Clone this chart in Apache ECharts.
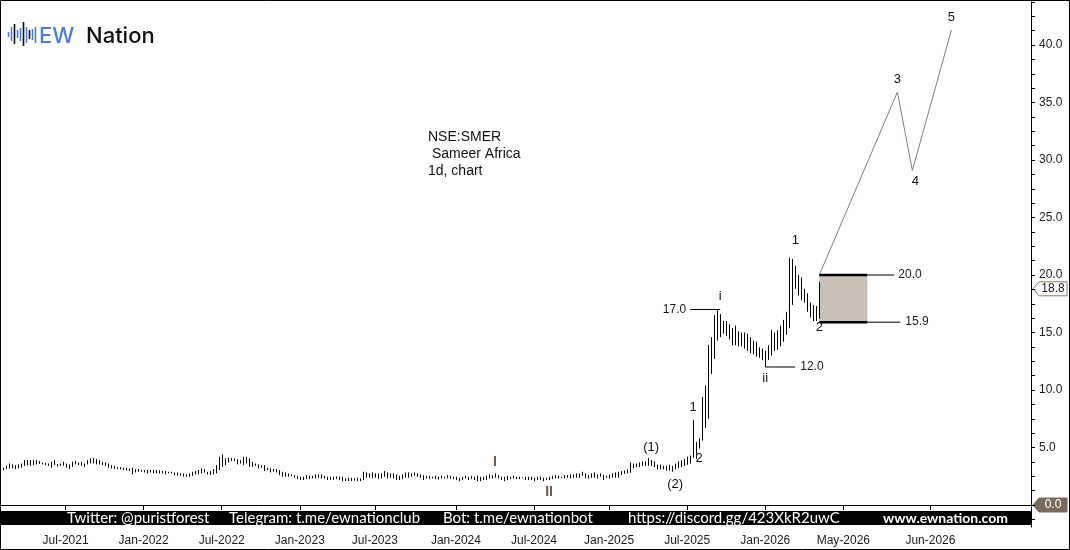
<!DOCTYPE html>
<html><head><meta charset="utf-8">
<script src="https://cdn.jsdelivr.net/npm/echarts@6/dist/echarts.min.js"></script>
<style>html,body{margin:0;padding:0;background:#fff}#c{width:1070px;height:550px}</style>
</head><body><div id="c"></div>
<script>
// ---- weekly bar data (low / high), one entry per week ----
const lows = [
3.04,3.12,3.18,3.18,3.12,3.18,3.24,3.41,3.47,3.41, 3.47,3.53,3.58,3.53,3.47,3.41,3.24,3.47,3.35,3.41,
3.41,3.24,3.12,3.32,3.53,3.47,3.41,3.32,3.53,3.61, 3.61,3.53,3.53,3.47,3.41,3.24,3.18,3.12,3.12,3.10,
3.04,3.01,2.95,2.66,2.83,2.89,2.89,2.83,2.75,2.83, 2.75,2.75,2.75,2.75,2.66,2.75,2.75,2.60,2.54,2.54,
2.46,2.46,2.46,2.54,2.66,2.66,2.75,2.83,2.66,2.60,
2.66,2.75,3.04,3.32,3.47,3.70,3.82,3.82,3.53,3.61, 3.47,3.61,3.32,3.32,3.41,3.18,3.24,2.95,3.04,2.83,
2.89,2.83,2.60,2.46,2.46,2.46,2.52,2.37,2.25,2.17, 2.17,2.25,2.25,2.31,2.31,2.37,2.31,2.31,2.17,2.17,
2.17,2.25,2.17,2.08,2.08,2.08,2.08,2.12,2.08,2.08, 2.17,2.37,2.37,2.31,2.37,2.25,2.31,2.46,2.31,2.37,
2.31,2.17,2.17,2.25,2.37,2.37,
2.46,2.54,2.46,2.37,2.17,2.31,2.25,2.31,2.25,2.22, 2.31,2.31,2.31,2.25,2.25,2.17,2.08,2.17,2.31,2.17,
2.25,2.17,2.08,2.08,2.17,2.17,2.31,2.31,2.37,2.31, 2.17,2.08,2.17,2.25,2.31,2.25,2.25,2.34,2.17,2.17,
2.17,2.08,2.17,2.17,2.08,2.17,2.17,2.25,2.31,2.31, 2.37,2.31,2.37,2.31,2.37,2.37,2.37,2.54,2.31,2.31,
2.37,2.37,2.31,2.46,2.17,2.37,2.31,2.37,2.37,2.37,
2.60,2.70,2.75,2.80,3.20,3.30,3.30,3.40,3.40,3.40, 3.40,3.30,3.10,3.10,3.10,3.00,3.00,2.90,3.10,3.20,
3.30,3.40,3.50,3.60,
4.1,4.0,4.9,5.6,6.7,7.5,11.4,12.7,14.3,14.6, 14.9,14.7,14.4,13.9,13.9,13.8,13.8,13.6,13.4,13.2,
13.1,12.9,12.8,12.6,12.0,12.6,13.0,13.4,13.5,13.8, 14.2,14.8,15.4,17.4,18.8,18.2,17.8,17.6,16.8,16.3,
16.0,16.0,16.2
];
const highs = [
3.24,3.41,3.61,3.53,3.47,3.53,3.61,3.90,3.90,3.90, 3.90,3.90,3.82,3.70,3.67,3.61,3.76,3.90,3.55,3.61,
3.76,3.61,3.53,3.76,3.82,3.70,3.76,3.61,3.90,4.05, 4.10,3.99,3.90,3.76,3.70,3.61,3.47,3.41,3.32,3.30,
3.24,3.24,3.18,3.24,3.12,3.12,3.04,3.04,3.04,3.04, 3.04,3.04,3.01,2.95,2.95,2.89,2.89,2.83,2.83,2.75,
2.75,2.66,2.75,2.89,2.95,3.04,3.18,3.12,2.89,2.95,
3.12,3.47,4.19,4.39,4.05,4.10,4.10,4.05,3.99,3.90, 4.19,4.19,4.05,3.76,3.61,3.53,3.47,3.47,3.24,3.18,
3.12,3.12,3.04,2.89,2.83,2.75,2.66,2.60,2.54,2.46, 2.46,2.60,2.54,2.54,2.66,2.66,2.66,2.54,2.46,2.46,
2.46,2.50,2.46,2.46,2.31,2.37,2.37,2.31,2.37,2.31, 2.89,2.83,2.75,2.83,2.75,2.75,2.75,2.95,2.83,2.75,
2.75,2.66,2.54,2.66,2.83,2.83,
2.75,2.83,2.75,2.66,2.60,2.54,2.54,2.46,2.54,2.46, 2.54,2.46,2.60,2.54,2.46,2.46,2.37,2.46,2.54,2.46,
2.54,2.46,2.54,2.46,2.46,2.54,2.66,2.60,2.75,2.60, 2.46,2.46,2.54,2.46,2.54,2.46,2.46,2.40,2.46,2.46,
2.46,2.37,2.46,2.46,2.37,2.37,2.46,2.54,2.60,2.54, 2.46,2.60,2.60,2.66,2.66,2.75,2.75,2.89,2.75,2.60,
2.75,2.83,2.66,2.75,2.60,2.55,2.63,2.75,2.83,2.89,
2.95,3.00,3.10,3.70,3.60,3.60,3.70,3.80,3.80,4.10, 3.90,3.80,3.50,3.50,3.40,3.40,3.50,3.40,3.60,3.80,
3.90,4.00,4.20,4.30,
7.4,5.5,5.8,9.4,10.4,13.9,14.6,16.5,17.0,16.6, 16.0,16.0,15.7,15.4,15.6,15.1,15.0,15.0,14.9,14.6,
14.3,14.2,13.7,13.6,13.4,13.9,15.2,15.0,15.2,15.6, 16.1,16.8,21.5,21.4,20.8,20.0,19.8,18.8,18.4,17.6,
17.4,17.3,19.4
];
const weekCount = 343;                      // weekly slots on the time axis (incl. projection space)
const tickIndex  = [21, 47, 73, 99, 124, 151, 177, 202, 228, 254, 280, 309];
const tickLabels = ['Jul-2021','Jan-2022','Jul-2022','Jan-2023','Jul-2023','Jan-2024','Jul-2024','Jan-2025','Jul-2025','Jan-2026','May-2026','Jun-2026'];
const yTickValues = [5, 10, 15, 20, 25, 30, 35, 40];
const lastPrice = 18.8;

// Elliott wave labels: [text, week, price]
const waveLabels = [
  ['(1)', 216, 5.04], ['(2)', 224, 1.83], ['1', 230, 8.52], ['2', 232, 4.09],
  ['i', 239, 18.17], ['ii', 254, 11.04], ['1', 264, 23.04], ['2', 272, 15.48],
  ['3', 298, 37.04], ['4', 304, 28.17], ['5', 316, 42.43]
];
const cycleLabels = [['I', 164, 3.74], ['II', 182, 1.13]];

// projected path
const projection = [[272, 20.0], [298, 35.9], [303, 29.1], [316, 41.3]];
const zoneTop = 20.0, zoneBottom = 15.9;
const zoneStart = 272, zoneEnd = 288, zoneTopLabelAt = 297, zoneBottomLabelAt = 299;
const level17 = [[229, 17.0], [239, 17.0]];
const level12 = [[254, 12.0], [264, 12.0]];

const categories = Array.from({length: weekCount}, (_, i) => String(i));
const barData = lows.map((l, i) => [i, l, highs[i]]);

const FONT = 'Liberation Sans, Arial, sans-serif';
const chart = echarts.init(document.getElementById('c'), null, {renderer: 'canvas'});

function lineSeries(data, width, color) {
  return {type: 'line', data: data, symbol: 'none', silent: true, z: 4,
    lineStyle: {color: color || '#000', width: width}, animation: false};
}
const HIDDEN = {color: 'rgba(0,0,0,0)'};
const LBL = {show: true, textBorderWidth: 0, textShadowBlur: 0, opacity: 1};

chart.setOption({
  animation: false,
  backgroundColor: '#fff',
  grid: {left: 1, right: 39, top: 1.875, bottom: 30.625, containLabel: false},
  xAxis: {
    type: 'category', data: categories, boundaryGap: true, offset: 7.6,
    axisLine: {show: true, lineStyle: {color: '#000', width: 1}},
    axisTick: {show: true, alignWithLabel: true, length: 5, interval: (i) => tickIndex.includes(i), lineStyle: {color: '#000'}},
    axisLabel: {interval: (i) => tickIndex.includes(i), formatter: (v, i) => { const k = tickIndex.indexOf(Number(v)); return k >= 0 ? tickLabels[k] : ''; },
      color: '#1e1a18', fontSize: 12, fontFamily: FONT, margin: 8},
    splitLine: {show: false}
  },
  yAxis: {
    type: 'value', position: 'right', min: -1.25, max: 43.75, interval: 1.25,
    axisLine: {show: true, lineStyle: {color: '#000', width: 1}},
    axisTick: {show: true, length: 4, lineStyle: {color: '#000'}},
    axisLabel: {formatter: (v) => yTickValues.some(t => Math.abs(t - v) < 1e-6) ? v.toFixed(1) : '',
      color: '#1e1a18', fontSize: 12, fontFamily: FONT, margin: 8},
    splitLine: {show: false}
  },
  series: [
    {
      type: 'custom', data: barData, encode: {x: 0, y: [1, 2]}, z: 3, silent: true,
      renderItem: (params, api) => {
        const i = api.value(0);
        const a = api.coord([i, api.value(1)]);
        const b = api.coord([i, api.value(2)]);
        const px = Math.round(a[0]) + 0.5;
        return {type: 'line', shape: {x1: px, y1: a[1], x2: px, y2: b[1]}, style: {stroke: '#000', lineWidth: 1}};
      }
    },
    {
      type: 'line', data: [], symbol: 'none', silent: true, z: 2,
      markArea: {silent: true, itemStyle: {color: '#c9c0b6'},
        data: [[{xAxis: zoneStart, yAxis: zoneBottom}, {xAxis: zoneEnd, yAxis: zoneTop}]]}
    },
    lineSeries(projection, 1, '#8c7b6c'),
    lineSeries([[zoneStart, zoneTop], [zoneEnd, zoneTop]], 2.5),
    lineSeries([[zoneEnd, zoneTop], [zoneTopLabelAt, zoneTop]], 1),
    lineSeries([[zoneStart, zoneBottom], [zoneEnd, zoneBottom]], 2.5),
    lineSeries([[zoneEnd, zoneBottom], [zoneBottomLabelAt, zoneBottom]], 1),
    lineSeries(level17, 1),
    lineSeries(level12, 1),
    {
      type: 'scatter', symbolSize: 2, itemStyle: HIDDEN, silent: true, z: 6,
      data: waveLabels.map(d => [d[1], d[2], d[0]]),
      label: Object.assign({}, LBL, {position: 'inside', formatter: p => p.value[2], color: '#111', fontSize: 13, fontFamily: FONT})
    },
    {
      type: 'scatter', symbolSize: 2, itemStyle: HIDDEN, silent: true, z: 6,
      data: cycleLabels.map(d => [d[1], d[2], d[0]]),
      label: Object.assign({}, LBL, {position: 'inside', formatter: p => p.value[2], color: '#6b5b4f', fontSize: 14, fontWeight: 'bold', fontFamily: FONT})
    },
    {
      type: 'scatter', symbolSize: 2, itemStyle: HIDDEN, silent: true, z: 6,
      data: [
        {value: [level17[0][0], level17[0][1], level17[0][1].toFixed(1)], label: {position: 'left', distance: 3}},
        {value: [level12[1][0], level12[1][1], level12[1][1].toFixed(1)], label: {position: 'right', distance: 4}},
        {value: [zoneTopLabelAt, zoneTop, zoneTop.toFixed(1)], label: {position: 'right', distance: 3}},
        {value: [zoneBottomLabelAt, zoneBottom, zoneBottom.toFixed(1)], label: {position: 'right', distance: 4}}
      ],
      label: Object.assign({}, LBL, {formatter: p => p.value[2], color: '#1e1a18', fontSize: 12, fontFamily: FONT})
    }
  ]
});

// ---- overlay graphics (logo, title, banner, price tags) ----
const yLast = chart.convertToPixel({yAxisIndex: 0}, lastPrice);
const yZero = chart.convertToPixel({yAxisIndex: 0}, 0);
const axisX = 1031;

const waveBars = [
  [8.5, 32, 37, '#4a7de0'], [11.5, 27, 41, '#4a7de0'], [14.5, 24, 44, '#111'], [17.5, 30, 38, '#4a7de0'],
  [20.5, 28, 41, '#4a7de0'], [23.5, 22, 46, '#111'], [26.5, 27, 43, '#4a7de0'], [29.5, 30, 39, '#111'],
  [32.5, 29, 40, '#4a7de0'], [35.5, 27, 43, '#4a7de0']
];

function tag(y, fill, stroke, textColor, text) {
  return {
    type: 'group', z: 100,
    children: [
      {type: 'polygon', shape: {points: [[axisX + 2, y], [axisX + 8, y - 7], [axisX + 36, y - 7], [axisX + 36, y + 7], [axisX + 8, y + 7]]},
        style: {fill: fill, stroke: stroke, lineWidth: 1}},
      {type: 'text', x: axisX + 22, y: y, style: {text: text, fill: textColor, font: '12px ' + FONT, textAlign: 'center', textVerticalAlign: 'middle'}}
    ]
  };
}

const banner = [
  ['Twitter: @puristforest', 67, 'normal'],
  ['Telegram: t.me/ewnationclub', 229, 'normal'],
  ['Bot: t.me/ewnationbot', 443, 'normal'],
  ['https://discord.gg/423XkR2uwC', 628, 'normal'],
  ['www.ewnation.com', 883, 'bold']
];

chart.setOption({
  graphic: [
    {type: 'rect', z: 90, shape: {x: 1, y: 511, width: 1030, height: 14}, style: {fill: '#000'}},
    ...banner.map(b => ({type: 'text', z: 91, x: b[1], y: 518, style: {text: b[0], fill: '#fff', font: b[2] + ' ' + (b[2] === 'bold' ? 14 : 15) + 'px Lato, sans-serif', textVerticalAlign: 'middle'}})),
    {type: 'line', z: 90, shape: {x1: axisX + 0.5, y1: 519, x2: axisX + 0.5, y2: 527.5}, style: {stroke: '#000', lineWidth: 1}},
    tag(yLast, '#fff', '#8c7b6c', '#1e1a18', lastPrice.toFixed(1)),
    tag(yZero, '#7a6a5c', '#7a6a5c', '#fff', '0.0'),
    {type: 'text', z: 95, x: 428, y: 129, style: {text: 'NSE:SMER\n Sameer Africa\n1d, chart', fill: '#111', font: '14px ' + FONT, lineHeight: 17}},
    ...waveBars.map(w => ({type: 'line', z: 95, shape: {x1: w[0], y1: w[1], x2: w[0], y2: w[2]}, style: {stroke: w[3], lineWidth: 1.6}})),
    {type: 'text', z: 95, x: 39, y: 36, style: {text: 'EW', fill: '#4a7de0', font: '500 22px Inter, sans-serif', textVerticalAlign: 'middle'}},
    {type: 'text', z: 95, x: 86, y: 36, style: {text: 'Nation', fill: '#111', font: '500 22px Inter, sans-serif', textVerticalAlign: 'middle'}},
    {type: 'rect', z: 120, shape: {x: 0.5, y: 0.5, width: 1069, height: 549}, style: {fill: 'none', stroke: '#000', lineWidth: 1}}
  ]
});
</script>
</body></html>
